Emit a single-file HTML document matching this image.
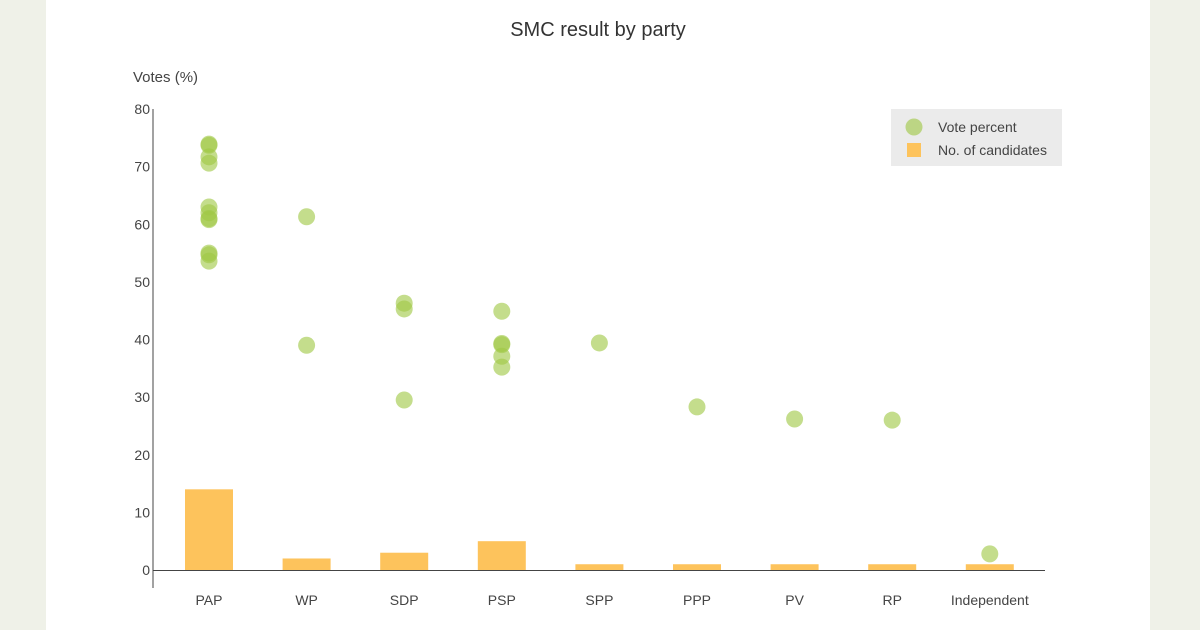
<!DOCTYPE html>
<html><head><meta charset="utf-8"><style>
body{margin:0;background:#eff1e8;font-family:"Liberation Sans",sans-serif}
#panel{position:absolute;left:46px;top:0;width:1104px;height:630px;background:#fff}
svg{position:absolute;left:0;top:0}
text{font-family:"Liberation Sans",sans-serif;fill:#444}
</style></head><body>
<div id="panel"></div>
<svg id="c" width="1200" height="630"></svg>
<script>
const categories=["PAP","WP","SDP","PSP","SPP","PPP","PV","RP","Independent"];
const candidates=[14,2,3,5,1,1,1,1,1];
const voteParty=["PAP","PAP","PAP","PAP","PAP","PAP","PAP","PAP","PAP","PAP","PAP","WP","WP","SDP","SDP","SDP","PSP","PSP","PSP","PSP","PSP","SPP","PPP","PV","RP","Independent"];
const votePercent=[73.9,73.7,71.7,70.6,63,62,61,60.8,55,54.7,53.6,61.3,39.0,46.3,45.3,29.5,44.9,39.3,39.1,37.1,35.2,39.4,28.3,26.2,26.0,2.8];
const yTicks=[0,10,20,30,40,50,60,70,80];
const NS="http://www.w3.org/2000/svg",svg=document.getElementById('c');
function el(t,a,txt){const e=document.createElementNS(NS,t);for(const k in a)e.setAttribute(k,a[k]);if(txt!==undefined)e.textContent=txt;svg.appendChild(e);return e;}
const y=v=>570-v*(461/80);
const x=c=>209+categories.indexOf(c)*97.6;
let t=el('text',{x:598,y:36,'text-anchor':'middle','font-size':20,style:'fill:#333'},'SMC result by party');


t=el('text',{x:133,y:82,'font-size':15},'Votes (%)');


yTicks.forEach(v=>{const e=el('text',{x:150,y:y(v)+5,'text-anchor':'end','font-size':14},v);

});
categories.forEach((c,i)=>{const b=el('rect',{x:x(c)-24,y:y(candidates[i]),width:48,height:570-y(candidates[i]),fill:'#fdc35c'});


const l=el('text',{x:x(c),y:605,'text-anchor':'middle','font-size':14},c);

});
let a=el('line',{x1:153,y1:109,x2:153,y2:588,stroke:'#444','stroke-width':1});


a=el('line',{x1:153,y1:570.5,x2:1045,y2:570.5,stroke:'#444','stroke-width':1});


votePercent.forEach((v,i)=>{const d=el('circle',{cx:x(voteParty[i]),cy:y(v),r:8.5,fill:'rgba(160,200,70,0.62)'});

});
const lg=el('rect',{x:891,y:109,width:171,height:57,fill:'#ebebeb'});


let m=el('circle',{cx:914,cy:127,r:8.5,fill:'rgba(160,200,70,0.62)'});


m=el('text',{x:938,y:132,'font-size':14},'Vote percent');


m=el('rect',{x:907,y:143,width:14,height:14,fill:'#fdc35c'});


m=el('text',{x:938,y:155,'font-size':14},'No. of candidates');


</script></body></html>
